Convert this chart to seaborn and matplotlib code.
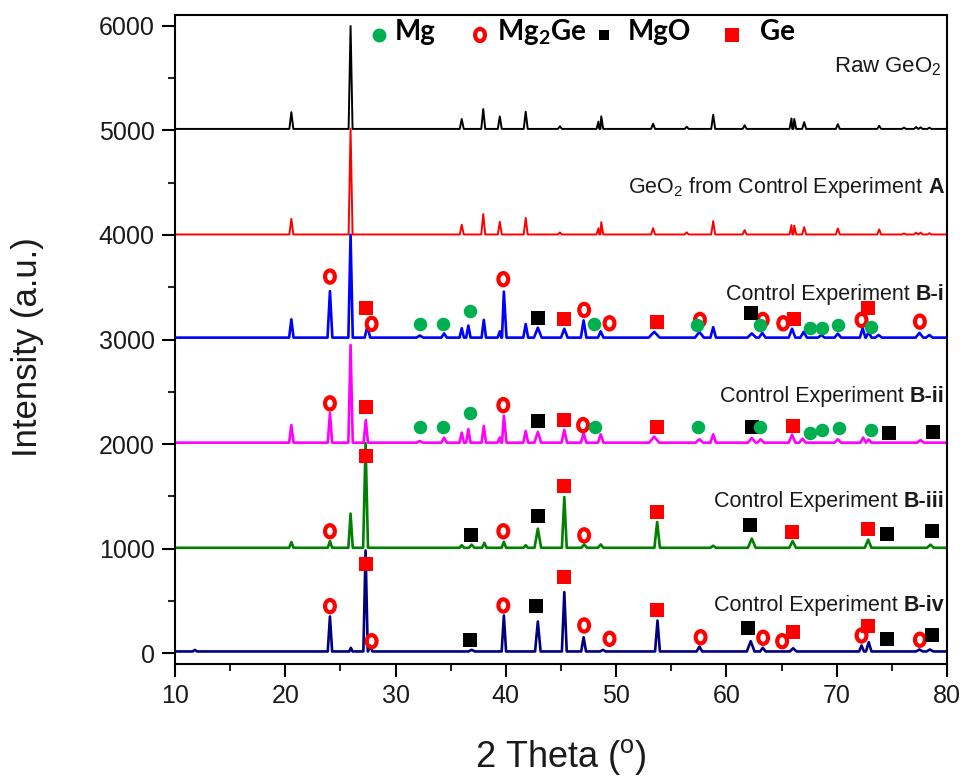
import numpy as np
import pandas as pd
import matplotlib
matplotlib.use("Agg")
import matplotlib.pyplot as plt
import matplotlib.transforms as mtrans
from matplotlib.path import Path
import seaborn as sns

# ---------------- data ----------------
samples = ["Raw GeO2", "GeO2 A", "B-i", "B-ii", "B-iii", "B-iv"]
baselines = [5015, 4005, 3018, 2013, 1007, 15]

raw_pos = [20.55, 25.92, 36.0, 37.95, 39.45, 41.8, 44.9, 48.4, 48.65, 53.35, 56.4,
           58.8, 61.65, 65.9, 66.15, 67.05, 70.1, 73.85, 76.1, 77.2, 77.6, 78.4]
raw_hgt = [160, 985, 95, 190, 120, 165, 25, 70, 120, 50, 20,
           135, 35, 100, 95, 65, 45, 30, 12, 18, 15, 12]
raw_wid = [0.18] * 22

a_pos = raw_pos
a_hgt = [150, 1010, 93, 195, 122, 158, 20, 60, 118, 60, 20,
         128, 42, 90, 85, 70, 58, 48, 10, 18, 18, 12]
a_wid = [0.18] * 22

bi_pos = [20.55, 24.05, 25.92, 27.45, 32.2, 34.4, 36.0, 36.6, 38.0, 39.45, 39.82, 41.8,
          42.9, 45.3, 47.05, 48.6, 53.45, 57.55, 58.8, 62.3, 63.25, 65.95, 67.0, 68.6,
          70.1, 72.35, 72.9, 73.8, 77.5, 78.4]
bi_hgt = [175, 445, 984, 110, 20, 40, 90, 115, 170, 60, 440, 130,
          95, 85, 165, 60, 55, 55, 100, 40, 45, 85, 55, 25,
          38, 90, 55, 25, 45, 25]
bi_wid = [0.2, 0.22, 0.2, 0.25, 0.3, 0.25, 0.2, 0.2, 0.2, 0.2, 0.24, 0.22,
          0.35, 0.3, 0.25, 0.25, 0.5, 0.4, 0.25, 0.4, 0.3, 0.3, 0.3, 0.3,
          0.3, 0.25, 0.25, 0.3, 0.35, 0.3]

bii_pos = [20.55, 24.05, 25.92, 27.3, 32.2, 34.4, 36.0, 36.6, 38.0, 39.45, 39.82, 41.8,
           42.9, 45.3, 47.05, 48.6, 53.45, 57.55, 58.8, 62.3, 63.1, 65.95, 66.9, 70.1,
           72.4, 72.9, 77.6]
bii_hgt = [168, 283, 935, 216, 15, 48, 96, 129, 160, 50, 257, 112,
           103, 122, 90, 80, 58, 32, 80, 45, 32, 77, 38, 32,
           48, 30, 25]
bii_wid = [0.2, 0.2, 0.2, 0.2, 0.3, 0.25, 0.2, 0.2, 0.2, 0.2, 0.24, 0.22,
           0.3, 0.25, 0.25, 0.25, 0.45, 0.35, 0.25, 0.35, 0.3, 0.3, 0.3, 0.3,
           0.25, 0.25, 0.3]

biii_pos = [20.55, 24.05, 25.92, 27.28, 36.0, 36.9, 38.05, 39.82, 41.8, 42.9, 45.3,
            47.1, 48.6, 53.72, 58.8, 62.3, 66.0, 72.85, 78.5]
biii_hgt = [55, 64, 327, 1000, 25, 30, 48, 58, 25, 183, 486,
            32, 32, 247, 20, 88, 65, 78, 30]
biii_wid = [0.2, 0.2, 0.2, 0.22, 0.2, 0.25, 0.2, 0.2, 0.2, 0.3, 0.22,
            0.25, 0.25, 0.25, 0.25, 0.35, 0.3, 0.3, 0.3]

biv_pos = [11.8, 24.05, 25.95, 27.28, 27.7, 36.9, 39.82, 42.9, 45.3, 47.05, 48.8,
           53.75, 57.55, 62.2, 63.3, 66.05, 72.25, 72.9, 77.5, 78.45]
biv_hgt = [15, 335, 35, 967, 55, 15, 344, 287, 568, 136, 15,
           296, 47, 98, 35, 31, 57, 89, 19, 19]
biv_wid = [0.2, 0.2, 0.15, 0.2, 0.2, 0.3, 0.2, 0.25, 0.22, 0.22, 0.25,
           0.22, 0.25, 0.35, 0.25, 0.3, 0.22, 0.25, 0.3, 0.3]

# phase markers (2-theta, intensity)
mg_x = [32.2, 34.33, 36.75, 48.0, 57.36, 63.0, 67.6, 68.7, 70.1, 73.1,
        32.2, 34.33, 36.75, 48.1, 57.4, 63.0, 67.6, 68.7, 70.2, 73.1]
mg_y = [3146, 3149, 3270, 3146, 3139, 3139, 3113, 3113, 3139, 3123,
        2159, 2164, 2298, 2164, 2159, 2164, 2107, 2133, 2149, 2133]

mg2ge_x = [24.05, 27.83, 39.77, 47.1, 49.4, 57.6, 63.3, 65.15, 72.25, 77.54,
           24.05, 39.77, 47.0,
           24.05, 39.77, 47.1,
           24.05, 27.83, 39.77, 47.1, 49.4, 57.66, 63.33, 65.05, 72.25, 77.54]
mg2ge_y = [3602, 3149, 3577, 3283, 3155, 3187, 3187, 3155, 3187, 3171,
           2389, 2372, 2181,
           1165, 1165, 1126,
           449, 113, 455, 264, 136, 151, 146, 113, 168, 127]

mgo_x = [42.94, 62.27,
         42.88, 62.28, 74.76, 78.7,
         36.8, 42.88, 62.13, 74.6, 78.6,
         36.75, 42.72, 61.98, 74.6, 78.6]
mgo_y = [3203, 3257,
         2222, 2164, 2107, 2116,
         1126, 1308, 1229, 1143, 1165,
         120, 446, 242, 136, 177]

ge_x = [27.29, 45.3, 53.67, 66.15, 72.8,
        27.29, 45.3, 53.7, 66.05,
        27.29, 45.3, 53.7, 65.96, 72.86,
        27.29, 45.3, 53.7, 66.0, 72.8]
ge_y = [3305, 3197, 3171, 3197, 3299,
        2356, 2229, 2164, 2174,
        1883, 1599, 1350, 1158, 1184,
        855, 727, 414, 199, 254]

# ---------------- style ----------------
sns.set_theme(style="ticks")
plt.rcParams["font.family"] = ["Liberation Sans", "DejaVu Sans"]
plt.rcParams["mathtext.fontset"] = "custom"
plt.rcParams["mathtext.rm"] = "Liberation Sans"
plt.rcParams["mathtext.it"] = "Liberation Sans:italic"
plt.rcParams["mathtext.bf"] = "Liberation Sans:bold"
plt.rcParams["axes.linewidth"] = 1.5
plt.rcParams["axes.edgecolor"] = "black"

palette = {"Raw GeO2": "black", "GeO2 A": "#ff0000", "B-i": "#0000ff",
           "B-ii": "#ff00ff", "B-iii": "#008000", "B-iv": "#000080"}

def profile(name, base, pos, hgt, wid):
    xs = [10.0, 80.0]
    ys = [base, base]
    for p, h, w in zip(pos, hgt, wid):
        xs += [p - w, p, p + w]
        ys += [base, base + h, base]
    xs = np.asarray(xs)
    ys = np.asarray(ys, dtype=float)
    order = np.argsort(xs, kind="stable")
    return pd.DataFrame({"two_theta": xs[order], "intensity": ys[order], "sample": name})

peaks = [(raw_pos, raw_hgt, raw_wid), (a_pos, a_hgt, a_wid), (bi_pos, bi_hgt, bi_wid),
         (bii_pos, bii_hgt, bii_wid), (biii_pos, biii_hgt, biii_wid), (biv_pos, biv_hgt, biv_wid)]
df = pd.concat([profile(n, b, *pk) for n, b, pk in zip(samples, baselines, peaks)],
               ignore_index=True)

fig = plt.figure(figsize=(9.64, 7.76), dpi=100)
ax = fig.add_axes([175 / 964, 1 - 664 / 776, 772 / 964, 649 / 776])

for name in samples:
    sub = df[df["sample"] == name]
    sns.lineplot(data=sub, x="two_theta", y="intensity", color=palette[name],
                 estimator=None, sort=False,
                 linewidth=1.4 if name in ("Raw GeO2", "GeO2 A") else 1.9,
                 ax=ax, legend=False)

ell = Path.unit_circle().transformed(mtrans.Affine2D().scale(0.8, 1.0))
sns.scatterplot(x=mg2ge_x, y=mg2ge_y, marker=ell, s=78, color="red",
                facecolor="none", edgecolor="red", linewidth=3.0, ax=ax, zorder=5)
sns.scatterplot(x=mgo_x, y=mgo_y, marker="s", s=92, color="black", linewidth=0, ax=ax, zorder=6)
sns.scatterplot(x=ge_x, y=ge_y, marker="s", s=92, color="#ff0000", linewidth=0, ax=ax, zorder=6)
sns.scatterplot(x=mg_x, y=mg_y, marker="o", s=95, color="#00b050", linewidth=0, ax=ax, zorder=7)

# legend row
ly = 0.9692
tb = 0.9615
lfont = dict(fontsize=20, fontweight="bold", family=["Lato", "DejaVu Sans"],
             color="black", transform=ax.transAxes, va="baseline", ha="left")
ax.scatter([0.2642], [ly], marker="o", s=100, color="#00b050", linewidths=0,
           transform=ax.transAxes, clip_on=False, zorder=8)
ax.text(0.2850, tb, "Mg", **lfont)
ax.scatter([0.3951], [ly], marker=ell, s=78, facecolors="none", edgecolors="red",
           linewidths=3.0, transform=ax.transAxes, clip_on=False, zorder=8)
ax.text(0.4171, tb, r"Mg$_{\mathregular{2}}$Ge", **lfont)
ax.scatter([0.5557], [ly], marker="s", s=55, color="black", linewidths=0,
           transform=ax.transAxes, clip_on=False, zorder=8)
ax.text(0.5868, tb, "MgO", **lfont)
ax.scatter([0.7215], [ly], marker="s", s=100, color="#ff0000", linewidths=0,
           transform=ax.transAxes, clip_on=False, zorder=8)
ax.text(0.7578, tb, "Ge", **lfont)

ax.set_xlim(10, 80)
ax.set_ylim(-105, 6105)

# trace labels
tc = "#1a1a1a"
ax.text(79.5, 5557, r"Raw GeO$_{2}$", fontsize=16, color=tc, ha="right", va="baseline")

def trace_label(y, normal, bold, x=79.72, size=15.5):
    t_b = ax.text(x, y, bold, fontsize=size, fontweight="bold", color=tc,
                  ha="right", va="baseline")
    fig.canvas.draw()
    bb = t_b.get_window_extent()
    trans = mtrans.blended_transform_factory(mtrans.IdentityTransform(), ax.transData)
    ax.text(bb.x0 - 5, y, normal, fontsize=size, color=tc, ha="right", va="baseline",
            transform=trans)

trace_label(4402, r"GeO$_{2}$ from Control Experiment", "A")
trace_label(3379, "Control Experiment", "B-i")
trace_label(2404, "Control Experiment", "B-ii")
trace_label(1398, "Control Experiment", "B-iii")
trace_label(401, "Control Experiment", "B-iv")

# axes
ax.set_xticks(np.arange(10, 81, 10))
ax.set_xticks(np.arange(15, 80, 10), minor=True)
ax.set_yticks(np.arange(0, 6001, 1000))
ax.set_yticks(np.arange(500, 6000, 1000), minor=True)
ax.tick_params(axis="both", which="major", direction="out", length=9.5, width=1.5,
               labelsize=18, pad=5, colors="black", labelcolor="#1a1a1a")
ax.tick_params(axis="both", which="minor", direction="out", length=5, width=1.5)
ax.tick_params(top=False, right=False, which="both")
for s in ax.spines.values():
    s.set_visible(True)
    s.set_linewidth(1.5)
    s.set_color("black")

ax.set_xlabel(r"2 Theta ($^{\mathregular{o}}$)", fontsize=26, color="#1a1a1a")
ax.set_ylabel("Intensity (a.u.)", fontsize=25, color="#1a1a1a")
ax.xaxis.set_label_coords(0.5, -0.112)
ax.yaxis.set_label_coords(-0.170, 0.488)

fig.savefig("out.png", dpi=100)
